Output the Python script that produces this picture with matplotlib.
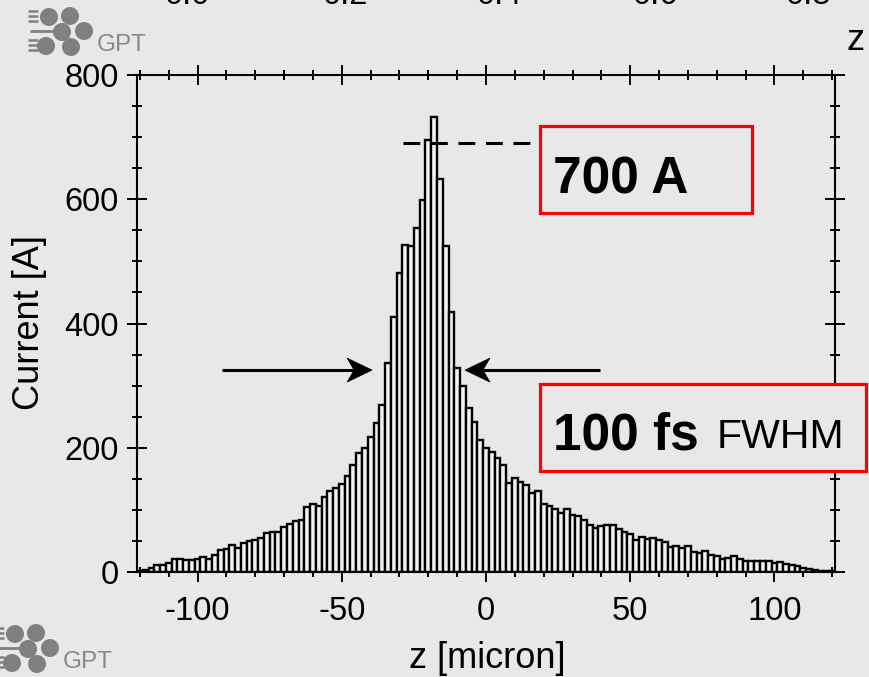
import numpy as np
import matplotlib
matplotlib.use("Agg")
import matplotlib.pyplot as plt
from matplotlib.patches import Rectangle, Circle, Polygon
from matplotlib.ticker import MultipleLocator

plt.rcParams['font.family'] = ['Liberation Sans', 'DejaVu Sans']
plt.rcParams['axes.unicode_minus'] = False

# Histogram of the bunch current profile (2 micron bins)
z_centers = np.arange(-120, 121, 2)
current = [
    1, 3, 7, 11, 11, 15, 21, 21, 19, 19,
    21, 24, 21, 28, 35, 37, 43, 39, 46, 50,
    51, 55, 62, 64, 65, 72, 78, 82, 83, 104,
    109, 107, 120, 130, 136, 141, 154, 172, 191, 200,
    218, 240, 269, 336, 410, 482, 527, 525, 554, 599,
    695, 733, 633, 525, 419, 328, 300,
    264, 242, 212, 200, 193, 184, 173, 143, 151, 145,
    140, 127, 131, 110, 107, 101, 95, 101, 91, 90,
    84, 75, 71,
    74, 76, 76, 69, 64, 61, 52, 57, 53, 55,
    52, 49, 41, 42, 38, 42, 32, 30, 33, 27, 25,
    21, 23, 25, 21, 17, 18, 17, 18, 17, 15,
    16, 13, 12, 9, 7, 5, 3, 2, 1, 1,
]
bin_width = 2

peak_label = "700 A"
peak_level = 691
fwhm_level = 325
fwhm_left = (-91.5, -39.5)    # tail, tip
fwhm_right = (39.5, -7.3)     # tail, tip
top_tick_labels = ["0.0", "0.2", "0.4", "0.6", "0.8"]

BG = "#e8e8e8"
W, H = 869, 677

fig = plt.figure(figsize=(W / 100, H / 100), dpi=100, facecolor=BG)
ax = fig.add_axes([137 / W, 1 - 572 / H, (835 - 137) / W, (572 - 75) / H])
ax.set_facecolor(BG)

ax.bar(z_centers, current, width=bin_width, facecolor="#f2f2f2",
       edgecolor="black", linewidth=1.7, zorder=2)

ax.set_xlim(-121, 121)
ax.set_ylim(0, 800)
ax.xaxis.set_major_locator(MultipleLocator(50))
ax.xaxis.set_minor_locator(MultipleLocator(10))
ax.yaxis.set_major_locator(MultipleLocator(200))
ax.yaxis.set_minor_locator(MultipleLocator(50))
for s in ax.spines.values():
    s.set_linewidth(1.5)
ax.tick_params(which="both", direction="inout", top=True, right=True,
               width=1.4, labelsize=23.5, colors="black")
ax.tick_params(which="major", length=14)
ax.tick_params(which="minor", length=7)
ax.tick_params(axis="x", which="major", pad=10)
ax.tick_params(axis="y", which="major", pad=6)

# Peak level marker
ax.plot([-28.8, 17.0], [peak_level, peak_level], color="black", lw=2.2,
        linestyle=(0, (5.5, 3.5)), zorder=3)

# Overlay in pixel coordinates for labels, boxes, arrowheads and logos
ov = fig.add_axes([0, 0, 1, 1], zorder=5)
ov.set_xlim(0, W)
ov.set_ylim(H, 0)
ov.axis("off")
ov.patch.set_alpha(0)


def to_px(x, y):
    px, py = ax.transData.transform((x, y))
    return px, H - py


def fwhm_arrow(tail_x, tip_x, y):
    tx, ty = to_px(tail_x, y)
    hx, hy = to_px(tip_x, y)
    d = 1 if hx > tx else -1
    head_len, half_w, notch = 25, 12, 7
    base_x = hx - d * head_len
    ov.plot([tx, base_x + d * notch], [ty, hy], color="black", lw=2.2,
            solid_capstyle="butt")
    ov.add_patch(Polygon([(hx, hy), (base_x, hy - half_w),
                          (base_x + d * notch, hy), (base_x, hy + half_w)],
                         closed=True, facecolor="black", edgecolor="black",
                         lw=0.5))


fwhm_arrow(fwhm_left[0], fwhm_left[1], fwhm_level)
fwhm_arrow(fwhm_right[0], fwhm_right[1], fwhm_level)

ov.text(30, 323, "Current [A]", rotation=90, ha="center", va="center",
        fontsize=26)
ov.text(487, 658, "z [micron]", ha="center", va="center", fontsize=26)
ov.text(855, 50, "z", ha="center", va="baseline", fontsize=26)
for x, lab in zip([187, 345, 500, 655, 808], top_tick_labels):
    ov.text(x, 4, lab, ha="center", va="baseline", fontsize=23.5)

ov.add_patch(Rectangle((540, 126), 212, 87, facecolor=BG, edgecolor="red",
                       lw=2.3))
ov.text(553, 193, peak_label, fontsize=37, fontweight="bold",
        va="baseline", ha="left")
ov.add_patch(Rectangle((540, 384), 326, 87, facecolor=BG, edgecolor="red",
                       lw=2.3))
ov.text(553, 450, "100 fs", fontsize=37, fontweight="bold",
        va="baseline", ha="left")
ov.text(717, 448, "FWHM", fontsize=29.5, va="baseline", ha="left")


def draw_logo(dx, dy):
    gray = "#808080"
    for cx, cy in [(49, 17), (70, 16), (62, 32), (84, 31), (46, 46), (71, 47)]:
        ov.add_patch(Circle((cx + dx, cy + dy), 9, color=gray, lw=0))
    for ly in [11, 16, 21, 40, 45, 50]:
        ov.plot([28 + dx, 38 + dx], [ly + dy, ly + dy], color=gray, lw=1.8,
                solid_capstyle="butt")
    ov.plot([30 + dx, 54 + dx], [31 + dy, 31 + dy], color=gray, lw=2.0,
            solid_capstyle="butt")
    ov.text(97 + dx, 51 + dy, "GPT", color="#888888", fontsize=17.5,
            va="baseline", ha="left")


draw_logo(0, 0)
draw_logo(-34, 617)

fig.savefig("out.png", dpi=100, facecolor=BG)
